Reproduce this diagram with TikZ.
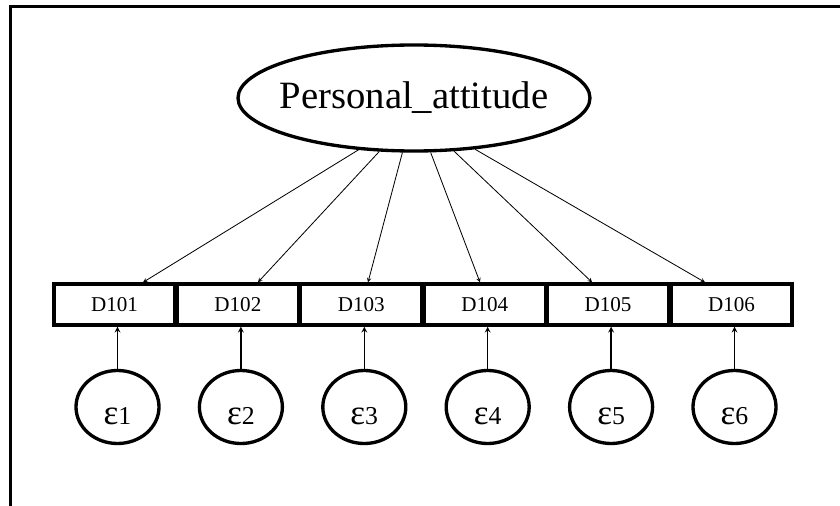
\documentclass[tikz,border=0pt]{standalone}
\usepackage{fontspec}
\setmainfont{Liberation Serif}
\usepackage{tikz}
\usetikzlibrary{calc, shapes.geometric, positioning}

% chữ epsilon to hơn chữ số đi kèm
\newcommand{\epsbig}{{\fontsize{30}{32}\selectfont ε}}

\begin{document}
\begin{tikzpicture}[>=stealth, x=0.03cm, y=-0.03cm,
    latent/.style={draw, ellipse, line width=0.1cm, inner ysep=0pt,
        inner xsep=-0.3cm,
        minimum width=10.56cm, minimum height=3.18cm,
        font=\fontsize{33}{36}\selectfont},
    obsbox/.style={draw, rectangle, line width=0.1cm, inner sep=0pt,
        minimum width=3.63cm, minimum height=1.23cm,
        font=\fontsize{18}{20}\selectfont},
    errnode/.style={draw, ellipse, line width=0.1cm, inner sep=0pt,
        minimum width=2.49cm, minimum height=2.19cm,
        text height=1.07cm, text depth=0cm,
        font=\fontsize{22}{24}\selectfont},
    loading/.style={->, line width=0.7pt},
    errarrow/.style={->, line width=1.2pt}]

    % =================================================================
    % 1. KHUNG VIỀN (CHỈ CÓ CẠNH TRÁI VÀ CẠNH TRÊN)
    % =================================================================
    \useasboundingbox (0,0) rectangle (840,506);
    \coordinate (FrameBL) at (10,506);
    \coordinate (FrameTL) at (10,7);
    \coordinate (FrameTR) at (840,7);
    \draw[line width=0.09cm] (FrameBL) -- (FrameTL) -- (FrameTR);

    % =================================================================
    % 2. BIẾN TIỀM ẨN VÀ CÁC BIẾN QUAN SÁT
    % =================================================================
    \node[latent] (attitude) at (414,98) {Personal\_attitude};

    \node[obsbox] (d101) at (114.5,304.5) {D101};
    \node[obsbox] (d102) at (237.9,304.5) {D102};
    \node[obsbox] (d103) at (361.3,304.5) {D103};
    \node[obsbox] (d104) at (484.7,304.5) {D104};
    \node[obsbox] (d105) at (608.1,304.5) {D105};
    \node[obsbox] (d106) at (731.5,304.5) {D106};

    % Các sai số đo lường
    \node[errnode] (e1) at (117.5,407) {\epsbig1};
    \node[errnode] (e2) at (240.9,407) {\epsbig2};
    \node[errnode] (e3) at (364.3,407) {\epsbig3};
    \node[errnode] (e4) at (487.7,407) {\epsbig4};
    \node[errnode] (e5) at (611.1,407) {\epsbig5};
    \node[errnode] (e6) at (734.5,407) {\epsbig6};

    % =================================================================
    % 3. CÁC ĐƯỜNG NỐI
    % =================================================================
    % Hệ số tải từ biến tiềm ẩn xuống các ô
    \draw[loading] (attitude.223) -- ($(d101.north)+(28.5,0)$);
    \draw[loading] (attitude.237) -- ($(d102.north)+(20,0)$);
    \draw[loading] (attitude.258) -- ($(d103.north)+(6.7,0)$);
    \draw[loading] (attitude.287) -- ($(d104.north)+(-4.7,0)$);
    \draw[loading] (attitude.307) -- ($(d105.north)+(-16,0)$);
    \draw[loading] (attitude.320) -- ($(d106.north)+(-26.5,0)$);

    % Mũi tên từ sai số lên ô quan sát
    \draw[errarrow] (e1.north) -- (e1.north |- d101.south);
    \draw[errarrow] (e2.north) -- (e2.north |- d102.south);
    \draw[errarrow] (e3.north) -- (e3.north |- d103.south);
    \draw[errarrow] (e4.north) -- (e4.north |- d104.south);
    \draw[errarrow] (e5.north) -- (e5.north |- d105.south);
    \draw[errarrow] (e6.north) -- (e6.north |- d106.south);

\end{tikzpicture}
\end{document}
